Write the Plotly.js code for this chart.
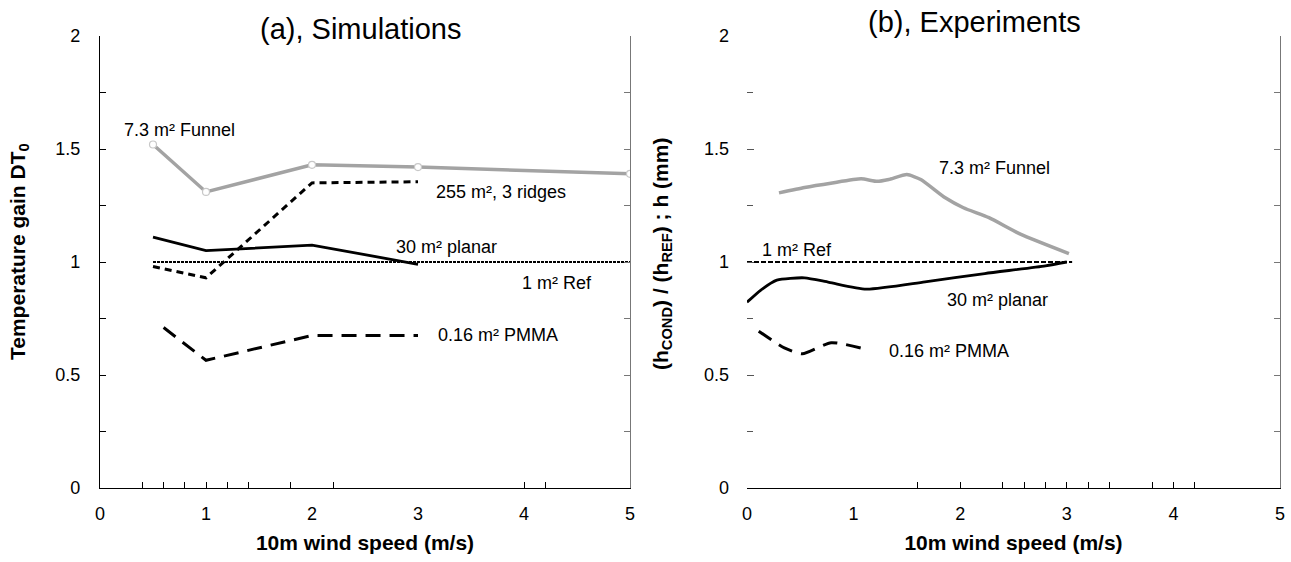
<!DOCTYPE html>
<html>
<head>
<meta charset="utf-8">
<script src="https://cdn.plot.ly/plotly-3.0.1.min.js"></script>
<style>html,body{margin:0;padding:0;background:#fff;}#chart{width:1291px;height:562px;}</style>
</head>
<body>
<div id="chart"></div>
<script>
// ---- Panel (a): Simulations ----
const simFunnelX = [0.5, 1, 2, 3, 5];
const simFunnelY = [1.52, 1.31, 1.43, 1.42, 1.39];
const simRidgesX = [0.5, 1, 2, 3];
const simRidgesY = [0.98, 0.93, 1.35, 1.355];
const simPlanarX = [0.5, 1, 2, 3];
const simPlanarY = [1.11, 1.05, 1.075, 0.99];
const simRefX = [0.5, 5];
const simRefY = [1, 1];
const simPmmaX = [0.6, 1, 2, 3];
const simPmmaY = [0.71, 0.565, 0.675, 0.675];

// ---- Panel (b): Experiments ----
const expFunnelX = [0.3, 0.54, 0.8, 1.07, 1.22, 1.33, 1.5, 1.63, 1.86, 2.03, 2.27, 2.57, 3.02];
const expFunnelY = [1.306, 1.33, 1.35, 1.368, 1.357, 1.365, 1.387, 1.365, 1.284, 1.24, 1.196, 1.122, 1.037];
const expRefX = [0, 3.05];
const expRefY = [1, 1];
const expPlanarX = [0, 0.13, 0.28, 0.54, 0.77, 1.12, 1.67, 2.23, 2.8, 3.0];
const expPlanarY = [0.822, 0.876, 0.92, 0.93, 0.91, 0.88, 0.912, 0.949, 0.983, 1.0];
const expPmmaX = [0.11, 0.35, 0.52, 0.79, 1.12];
const expPmmaY = [0.694, 0.62, 0.594, 0.643, 0.613];

const xTicks = [0, 1, 2, 3, 4, 5];
const yTicks = [0, 0.5, 1, 1.5, 2];

const GRAY = '#a3a3a3';
const FONT = 'Liberation Sans, Arial, sans-serif';
const ANN = {family: FONT, size: 18, color: '#000'};

const traces = [
  {x: simRefX, y: simRefY, xaxis: 'x', yaxis: 'y', mode: 'lines', line: {color: '#000', width: 1.8, dash: '3px,1px'}, showlegend: false, hoverinfo: 'skip'},
  {x: simFunnelX, y: simFunnelY, xaxis: 'x', yaxis: 'y', mode: 'lines+markers', line: {color: GRAY, width: 3.5}, marker: {size: 7, color: '#fff', line: {color: '#c8c8c8', width: 1.2}}, showlegend: false},
  {x: simRidgesX, y: simRidgesY, xaxis: 'x', yaxis: 'y', mode: 'lines', line: {color: '#000', width: 3, dash: '7px,5px'}, showlegend: false},
  {x: simPlanarX, y: simPlanarY, xaxis: 'x', yaxis: 'y', mode: 'lines', line: {color: '#000', width: 2.8}, showlegend: false},
  {x: simPmmaX, y: simPmmaY, xaxis: 'x', yaxis: 'y', mode: 'lines', line: {color: '#000', width: 3, dash: '15px,9px'}, showlegend: false},

  {x: expRefX, y: expRefY, xaxis: 'x2', yaxis: 'y2', mode: 'lines', line: {color: '#000', width: 1.8, dash: '5px,2px'}, showlegend: false, hoverinfo: 'skip'},
  {x: expFunnelX, y: expFunnelY, xaxis: 'x2', yaxis: 'y2', mode: 'lines', line: {color: GRAY, width: 3.5, shape: 'spline', smoothing: 0.5}, showlegend: false},
  {x: expPlanarX, y: expPlanarY, xaxis: 'x2', yaxis: 'y2', mode: 'lines', line: {color: '#000', width: 2.8, shape: 'spline', smoothing: 0.6}, showlegend: false},
  {x: expPmmaX, y: expPmmaY, xaxis: 'x2', yaxis: 'y2', mode: 'lines', line: {color: '#000', width: 3, dash: '15px,9px', shape: 'spline', smoothing: 0.6}, showlegend: false},

  // carriers for the right-hand frame axes
  {x: [], y: [], xaxis: 'x', yaxis: 'y3', mode: 'lines', showlegend: false, hoverinfo: 'skip'},
  {x: [], y: [], xaxis: 'x2', yaxis: 'y4', mode: 'lines', showlegend: false, hoverinfo: 'skip'}
];

const tickFont = {family: FONT, size: 18, color: '#000'};
const axTitleFont = {family: FONT, size: 21, color: '#000', weight: 'bold'};

const yRange = [0, 2];
const xRange = [0, 5];
const yDom = [74 / 562, 1 - 36 / 562];

function xAxis(domain, anchor, minorVals) {
  return {
    domain: domain, anchor: anchor, range: xRange, tickvals: xTicks, ticktext: xTicks.map(String),
    showline: true, linecolor: '#000', linewidth: 1.2, ticks: '', showgrid: false, zeroline: false,
    tickfont: tickFont, ticklabelstandoff: 9,
    minor: {tickmode: 'array', tickvals: minorVals, ticks: 'inside', ticklen: 6, tickcolor: '#000', showgrid: false},
    title: {text: '10m wind speed (m/s)', font: axTitleFont, standoff: 12}
  };
}

const layout = {
  width: 1291, height: 562,
  margin: {l: 0, r: 0, t: 0, b: 0},
  paper_bgcolor: '#fff', plot_bgcolor: '#fff',
  font: {family: FONT, color: '#000'},
  showlegend: false,
  xaxis: xAxis([100 / 1291, 630 / 1291], 'y', [0.4, 0.6, 0.8, 1, 1.2, 1.4, 1.8, 2.2, 4, 4.2]),
  xaxis2: xAxis([747 / 1291, 1280 / 1291], 'y2', [1.6, 2, 2.4, 2.6, 2.8, 3, 3.2, 3.4, 3.8, 4, 4.2]),
  yaxis: {
    domain: yDom, anchor: 'x', range: yRange, tickvals: yTicks, ticktext: yTicks.map(String),
    showline: true, linecolor: '#000', linewidth: 1.2, ticks: 'inside', ticklen: 6, tickcolor: '#000',
    showgrid: false, zeroline: false, tickfont: tickFont, ticklabelstandoff: 15,
    minor: {dtick: 0.25, ticks: 'inside', ticklen: 6, tickcolor: '#000', showgrid: false}
  },
  yaxis2: {
    domain: yDom, anchor: 'x2', range: yRange, tickvals: yTicks, ticktext: yTicks.map(String),
    showline: false, ticks: 'inside', ticklen: 7, tickcolor: '#555',
    showgrid: false, zeroline: false, tickfont: tickFont, ticklabelstandoff: 17,
    minor: {dtick: 0.25, ticks: 'inside', ticklen: 6, tickcolor: '#555', showgrid: false}
  },
  yaxis3: {
    overlaying: 'y', side: 'right', anchor: 'x', range: yRange, showline: true, linecolor: '#777', linewidth: 1.4,
    ticks: 'inside', ticklen: 6, tickcolor: '#777', tickvals: [0.25, 0.5, 0.75, 1, 1.25, 1.5, 1.75],
    showticklabels: false, showgrid: false, zeroline: false
  },
  yaxis4: {
    overlaying: 'y2', side: 'right', anchor: 'x2', range: yRange, showline: true, linecolor: '#777', linewidth: 1.4,
    ticks: 'inside', ticklen: 6, tickcolor: '#777', tickvals: [0.25, 0.5, 0.75, 1, 1.25, 1.5, 1.75],
    showticklabels: false, showgrid: false, zeroline: false
  },
  annotations: [
    {xref: 'paper', yref: 'paper', x: 360 / 1291, y: 1 - 29 / 562, text: '(a), Simulations', showarrow: false, font: {family: FONT, size: 29, color: '#000'}, xanchor: 'center', yanchor: 'middle'},
    {xref: 'paper', yref: 'paper', x: 974 / 1291, y: 1 - 22 / 562, text: '(b), Experiments', showarrow: false, font: {family: FONT, size: 29, color: '#000'}, xanchor: 'center', yanchor: 'middle'},

    {xref: 'paper', yref: 'paper', x: 19 / 1291, y: 1 - 252 / 562, text: 'Temperature gain DT<sub>0</sub>', textangle: -90, showarrow: false, font: axTitleFont, xanchor: 'center', yanchor: 'middle'},
    {xref: 'paper', yref: 'paper', x: 662 / 1291, y: 1 - 254 / 562, text: '(h<sub>COND</sub>) / (h<sub>REF</sub>) ; h (mm)', textangle: -90, showarrow: false, font: axTitleFont, xanchor: 'center', yanchor: 'middle'},

    {xref: 'x', yref: 'y', x: 0.21, y: 1.585, text: '7.3 m² Funnel', showarrow: false, font: ANN, xanchor: 'left'},
    {xref: 'x', yref: 'y', x: 3.15, y: 1.31, text: '255 m², 3 ridges', showarrow: false, font: ANN, xanchor: 'left'},
    {xref: 'x', yref: 'y', x: 3.27, y: 1.065, text: '30 m² planar', showarrow: false, font: ANN, xanchor: 'center'},
    {xref: 'x', yref: 'y', x: 4.66, y: 0.905, text: '1 m² Ref', showarrow: false, font: ANN, xanchor: 'right'},
    {xref: 'x', yref: 'y', x: 3.17, y: 0.675, text: '0.16 m² PMMA', showarrow: false, font: ANN, xanchor: 'left'},

    {xref: 'x2', yref: 'y2', x: 2.32, y: 1.415, text: '7.3 m² Funnel', showarrow: false, font: ANN, xanchor: 'center'},
    {xref: 'x2', yref: 'y2', x: 0.12, y: 1.055, text: '1 m² Ref', showarrow: false, font: ANN, xanchor: 'left'},
    {xref: 'x2', yref: 'y2', x: 2.35, y: 0.83, text: '30 m² planar', showarrow: false, font: ANN, xanchor: 'center'},
    {xref: 'x2', yref: 'y2', x: 1.31, y: 0.607, text: '0.16 m² PMMA', showarrow: false, font: ANN, xanchor: 'left'}
  ]
};

Plotly.newPlot('chart', traces, layout, {displayModeBar: false, staticPlot: true});
</script>
</body>
</html>
